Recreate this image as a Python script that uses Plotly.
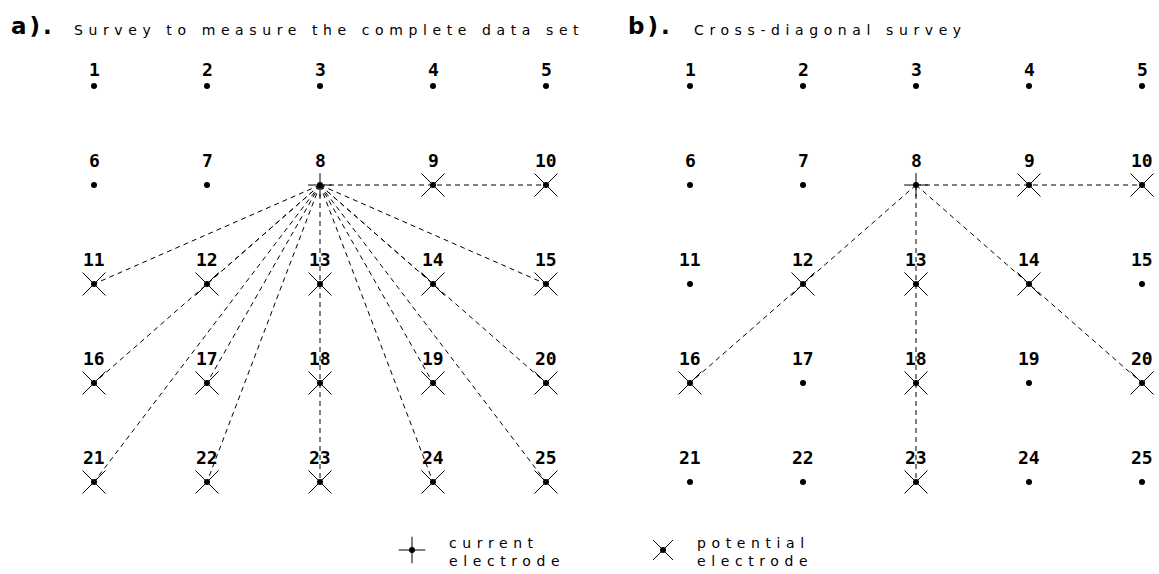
import plotly.graph_objects as go

# ---- data ----
electrodes = list(range(1, 26))
grid_cols = [1, 2, 3, 4, 5]
grid_rows = [1, 2, 3, 4, 5]
current_electrode = 8
potential_a = [9, 10, 11, 12, 13, 14, 15, 16, 17, 18, 19, 20, 21, 22, 23, 24, 25]
line_ends_a = [10, 11, 12, 14, 15, 16, 17, 19, 20, 21, 22, 23, 24, 25]
potential_b = [9, 10, 12, 13, 14, 16, 18, 20, 23]
line_ends_b = [10, 16, 23, 20]
title_a = "Survey to measure the complete data set"
title_b = "Cross-diagonal survey"
legend_labels = ["current<br>electrode", "potential<br>electrode"]


def col_of(n):
    return grid_cols[(n - 1) % 5]


def row_of(n):
    return grid_rows[(n - 1) // 5]


W, H = 1159, 574
fig = go.Figure()

LS = "letter-spacing:5.6px"
TITLE_FONT = dict(family="DejaVu Sans", size=14, color="black")
NUM_FONT = dict(family="DejaVu Sans Mono", size=18, color="black")
HEAD_FONT = dict(family="DejaVu Sans", size=23, color="black")


def add_panel(xref, yref, potentials, line_ends):
    lx, ly = [], []
    for e in line_ends:
        lx += [col_of(current_electrode), col_of(e), None]
        ly += [row_of(current_electrode), row_of(e), None]
    fig.add_trace(go.Scatter(x=lx, y=ly, mode="lines", xaxis=xref, yaxis=yref,
                             line=dict(color="black", width=1, dash="5px,4px"),
                             hoverinfo="skip", showlegend=False))
    fig.add_trace(go.Scatter(x=[col_of(e) for e in potentials], y=[row_of(e) for e in potentials],
                             mode="markers", xaxis=xref, yaxis=yref,
                             marker=dict(symbol="x-thin", size=23, line=dict(color="black", width=1)),
                             showlegend=False))
    fig.add_trace(go.Scatter(x=[col_of(current_electrode)], y=[row_of(current_electrode)],
                             mode="markers", xaxis=xref, yaxis=yref,
                             marker=dict(symbol="cross-thin", size=17, line=dict(color="black", width=1)),
                             showlegend=False))
    fig.add_trace(go.Scatter(x=[col_of(e) for e in electrodes], y=[row_of(e) for e in electrodes],
                             mode="markers", xaxis=xref, yaxis=yref,
                             marker=dict(symbol="circle", size=6, color="black"),
                             showlegend=False))
    for e in electrodes:
        fig.add_annotation(x=col_of(e), y=row_of(e), xref=xref, yref=yref, text=f"<b>{e}</b>",
                           showarrow=False, yshift=17 if row_of(e) == 1 else 25, font=NUM_FONT,
                           xanchor="center", yanchor="middle")


add_panel("x", "y", potential_a, line_ends_a)
add_panel("x2", "y", potential_b, line_ends_b)

split = 600
fig.update_layout(
    width=W, height=H, margin=dict(l=0, r=0, t=0, b=0),
    paper_bgcolor="white", plot_bgcolor="rgba(0,0,0,0)",
    xaxis=dict(domain=[0, split / W], range=[1 - 94 / 113, 1 + (split - 94) / 113],
               visible=False, fixedrange=True),
    xaxis2=dict(domain=[split / W, 1], range=[1 - (690 - split) / 113, 1 + (W - 690) / 113],
                visible=False, fixedrange=True, anchor="y"),
    yaxis=dict(domain=[0, 1], range=[1 + (H - 86) / 99, 1 - 86 / 99],
               visible=False, fixedrange=True),
    xaxis3=dict(domain=[0, 1], range=[0, 1], visible=False, fixedrange=True, anchor="y3"),
    yaxis3=dict(domain=[0, 1], range=[0, 1], visible=False, fixedrange=True, anchor="x3"),
)

# titles
for hx, head, tx, title in [(9, "a", 72, title_a), (626, "b", 692, title_b)]:
    fig.add_annotation(xref="paper", yref="paper", x=hx / W, y=1 - 26 / H, xanchor="left",
                       yanchor="middle", text=f'<b><span style="letter-spacing:3px">{head}).</span></b>',
                       showarrow=False, font=HEAD_FONT)
    fig.add_annotation(xref="paper", yref="paper", x=tx / W, y=1 - 30 / H, xanchor="left",
                       yanchor="middle", text=f'<span style="{LS}">{title}</span>',
                       showarrow=False, font=TITLE_FONT)

# legend
fig.add_trace(go.Scatter(x=[412 / W], y=[1 - 550 / H], xaxis="x3", yaxis="y3", mode="markers",
                         marker=dict(symbol="cross-thin", size=19, line=dict(color="black", width=1)),
                         showlegend=False))
fig.add_trace(go.Scatter(x=[663 / W], y=[1 - 550 / H], xaxis="x3", yaxis="y3", mode="markers",
                         marker=dict(symbol="x-thin", size=20, line=dict(color="black", width=1)),
                         showlegend=False))
fig.add_trace(go.Scatter(x=[412 / W, 663 / W], y=[1 - 550 / H, 1 - 550 / H], xaxis="x3", yaxis="y3",
                         mode="markers", marker=dict(symbol="circle", size=6, color="black"),
                         showlegend=False))
for lx, lab in zip([447, 695], legend_labels):
    fig.add_annotation(xref="paper", yref="paper", x=lx / W, y=1 - 552 / H, xanchor="left",
                       yanchor="middle", align="left", showarrow=False,
                       text=f'<span style="{LS}">{lab}</span>', font=TITLE_FONT)

fig.write_html("out.html", config={"displayModeBar": False, "staticPlot": True},
               post_script="document.body.style.margin='0';")
